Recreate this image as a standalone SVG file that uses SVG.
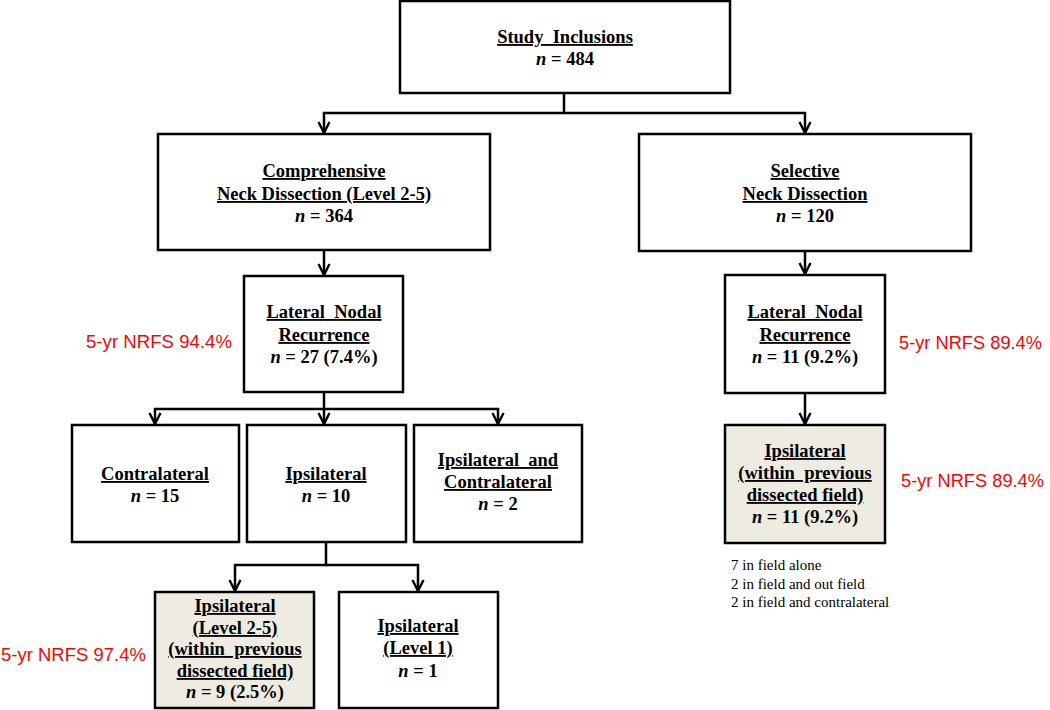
<svg xmlns="http://www.w3.org/2000/svg" width="1050" height="710" viewBox="0 0 1050 710">
<style>
.box{fill:#fff;stroke:#000;stroke-width:2.5}
.shade{fill:#EEECE1;stroke:#000;stroke-width:2.5}
.t{font-family:"Liberation Sans",Arial,sans-serif;font-family:"Liberation Serif","Times New Roman",serif;font-size:18.5px;font-weight:bold;text-anchor:middle;fill:#000}
.u{text-decoration:underline}
.i{font-style:italic}
.red{font-family:"Liberation Sans",Arial,sans-serif;font-size:18.5px;fill:#FF0000}
.note{font-family:"Liberation Serif","Times New Roman",serif;font-size:15px;fill:#000}
.c{fill:none;stroke:#000;stroke-width:2.5;marker-end:url(#arr)}
</style>
<defs>
<marker id="arr" viewBox="0 0 14 14" refX="13" refY="7" markerWidth="14" markerHeight="14" markerUnits="userSpaceOnUse" orient="auto">
<path d="M2,1.5 L13,7 L2,12.5" fill="none" stroke="#000" stroke-width="2.4"/>
</marker>
</defs>
<rect width="1050" height="710" fill="#fff"/>

<g id="connectors">
<path class="c" d="M564,93 V113 H324 V133"/>
<path class="c" d="M564,113 H805 V133"/>
<path class="c" d="M324,250 V275"/>
<path class="c" d="M805,251 V274"/>
<path class="c" d="M324,392 V409 H155 V424"/>
<path class="c" d="M324,409 V424"/>
<path class="c" d="M324,409 H498 V424"/>
<path class="c" d="M805,393 V424"/>
<path class="c" d="M326,542 V565 H235 V591"/>
<path class="c" d="M326,565 H418 V591"/>
</g>

<g id="study">
<rect class="box" x="400" y="1" width="330" height="92"/>
<text class="t" x="565" y="43" xml:space="preserve"><tspan class="u">Study  Inclusions</tspan></text>
<text class="t" x="565" y="65"><tspan class="i">n</tspan> = 484</text>
</g>

<g id="comprehensive">
<rect class="box" x="158" y="134" width="332" height="116"/>
<text class="t" x="324" y="177"><tspan class="u">Comprehensive</tspan></text>
<text class="t" x="324" y="200"><tspan class="u">Neck Dissection (Level 2-5)</tspan></text>
<text class="t" x="324" y="222"><tspan class="i">n</tspan> = 364</text>
</g>

<g id="selective">
<rect class="box" x="639" y="134" width="332" height="117"/>
<text class="t" x="805" y="177"><tspan class="u">Selective</tspan></text>
<text class="t" x="805" y="200"><tspan class="u">Neck Dissection</tspan></text>
<text class="t" x="805" y="222"><tspan class="i">n</tspan> = 120</text>
</g>

<g id="lnr-left">
<rect class="box" x="244" y="276" width="159" height="116"/>
<text class="t" x="324" y="318" xml:space="preserve"><tspan class="u">Lateral  Nodal</tspan></text>
<text class="t" x="324" y="341"><tspan class="u">Recurrence</tspan></text>
<text class="t" x="324" y="363"><tspan class="i">n</tspan> = 27 (7.4%)</text>
</g>

<g id="lnr-right">
<rect class="box" x="725" y="275" width="160" height="118"/>
<text class="t" x="805" y="318" xml:space="preserve"><tspan class="u">Lateral  Nodal</tspan></text>
<text class="t" x="805" y="341"><tspan class="u">Recurrence</tspan></text>
<text class="t" x="805" y="363"><tspan class="i">n</tspan> = 11 (9.2%)</text>
</g>

<g id="contralateral">
<rect class="box" x="72" y="425" width="167" height="117"/>
<text class="t" x="155" y="480"><tspan class="u">Contralateral</tspan></text>
<text class="t" x="155" y="502"><tspan class="i">n</tspan> = 15</text>
</g>

<g id="ipsilateral">
<rect class="box" x="247" y="425" width="159" height="117"/>
<text class="t" x="326" y="480"><tspan class="u">Ipsilateral</tspan></text>
<text class="t" x="326" y="502"><tspan class="i">n</tspan> = 10</text>
</g>

<g id="ipsi-contra">
<rect class="box" x="414" y="425" width="168" height="117"/>
<text class="t" x="498" y="466" xml:space="preserve"><tspan class="u">Ipsilateral  and</tspan></text>
<text class="t" x="498" y="488"><tspan class="u">Contralateral</tspan></text>
<text class="t" x="498" y="510"><tspan class="i">n</tspan> = 2</text>
</g>

<g id="ipsi-field-right">
<rect class="shade" x="725" y="425" width="160" height="118"/>
<text class="t" x="805" y="457"><tspan class="u">Ipsilateral</tspan></text>
<text class="t" x="805" y="479" xml:space="preserve"><tspan class="u">(within  previous</tspan></text>
<text class="t" x="805" y="501"><tspan class="u">dissected field)</tspan></text>
<text class="t" x="805" y="523"><tspan class="i">n</tspan> = 11 (9.2%)</text>
</g>

<g id="ipsi-level25">
<rect class="shade" x="155" y="592" width="159" height="116"/>
<text class="t" x="235" y="612"><tspan class="u">Ipsilateral</tspan></text>
<text class="t" x="235" y="634"><tspan class="u">(Level 2-5)</tspan></text>
<text class="t" x="235" y="655" xml:space="preserve"><tspan class="u">(within  previous</tspan></text>
<text class="t" x="235" y="677"><tspan class="u">dissected field)</tspan></text>
<text class="t" x="235" y="698"><tspan class="i">n</tspan> = 9 (2.5%)</text>
</g>

<g id="ipsi-level1">
<rect class="box" x="339" y="592" width="159" height="116"/>
<text class="t" x="418" y="632"><tspan class="u">Ipsilateral</tspan></text>
<text class="t" x="418" y="654"><tspan class="u">(Level 1)</tspan></text>
<text class="t" x="418" y="677"><tspan class="i">n</tspan> = 1</text>
</g>

<g id="labels">
<text class="red" x="86" y="348" textLength="146" lengthAdjust="spacingAndGlyphs">5-yr NRFS 94.4%</text>
<text class="red" x="899" y="349" textLength="143" lengthAdjust="spacingAndGlyphs">5-yr NRFS 89.4%</text>
<text class="red" x="901" y="487" textLength="143" lengthAdjust="spacingAndGlyphs">5-yr NRFS 89.4%</text>
<text class="red" x="1" y="661" textLength="145" lengthAdjust="spacingAndGlyphs">5-yr NRFS 97.4%</text>
<text class="note" x="731" y="570">7 in field alone</text>
<text class="note" x="731" y="589">2 in field and out field</text>
<text class="note" x="731" y="607">2 in field and contralateral</text>
</g>
</svg>
